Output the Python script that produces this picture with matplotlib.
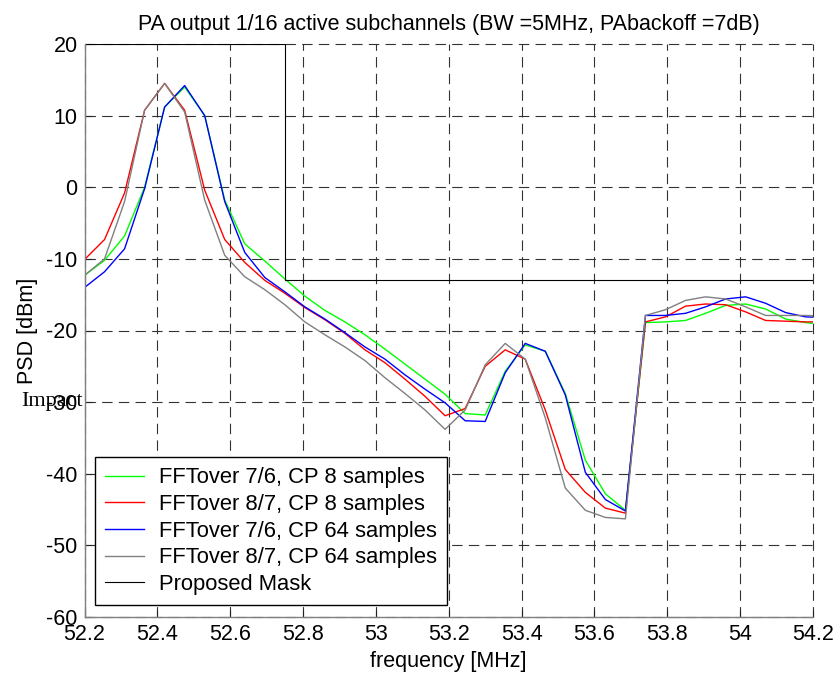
import matplotlib
matplotlib.use("Agg")
import matplotlib.pyplot as plt

plt.rcParams['font.family'] = ['Liberation Sans', 'DejaVu Sans']
plt.rcParams['lines.scale_dashes'] = False
plt.rcParams['axes.unicode_minus'] = False

freq = [52.2, 52.255, 52.31, 52.365, 52.42, 52.475, 52.53, 52.585, 52.64, 52.695,
        52.75, 52.805, 52.86, 52.915, 52.97, 53.025, 53.08, 53.135, 53.19, 53.245,
        53.3, 53.355, 53.41, 53.465, 53.52, 53.575, 53.63, 53.685, 53.74, 53.795,
        53.85, 53.905, 53.96, 54.015, 54.07, 54.125, 54.18, 54.235]

psd_76_cp8 = [-12.3, -10.2, -6.8, 0.0, 11.2, 14.0, 10.0, -1.8, -7.9, -10.3,
              -12.8, -15.2, -17.2, -18.8, -20.6, -22.6, -24.7, -26.8, -28.9, -31.6,
              -31.8, -25.7, -22.0, -22.9, -28.8, -38.1, -42.8, -45.1, -18.9, -18.8,
              -18.6, -17.6, -16.5, -16.3, -17.0, -18.4, -18.9, -19.2]

psd_87_cp8 = [-10.1, -7.3, -0.8, 10.75, 14.5, 10.75, -0.4, -7.3, -10.5, -13.0,
              -14.8, -16.8, -18.5, -20.4, -22.7, -24.5, -26.8, -29.2, -31.9, -30.9,
              -25.0, -22.7, -24.0, -31.1, -39.4, -42.6, -44.8, -45.5, -18.8, -18.1,
              -16.6, -16.3, -16.4, -17.4, -18.6, -18.7, -18.8, -18.8]

psd_76_cp64 = [-14.0, -11.8, -8.6, -0.2, 11.2, 14.2, 10.0, -2.0, -9.1, -12.6,
               -14.6, -16.7, -18.4, -20.3, -22.3, -24.0, -26.2, -28.2, -30.1, -32.6,
               -32.7, -25.9, -21.8, -22.9, -29.0, -39.8, -43.6, -45.2, -17.9, -17.9,
               -17.6, -16.7, -15.6, -15.3, -16.2, -17.5, -18.1, -18.2]

psd_87_cp64 = [-12.3, -10.0, -2.0, 10.75, 14.5, 10.5, -1.8, -9.5, -12.5, -14.3,
               -16.4, -18.8, -20.6, -22.3, -24.2, -26.6, -28.8, -31.1, -33.8, -31.1,
               -24.8, -21.8, -24.0, -32.2, -42.0, -45.1, -46.1, -46.3, -17.9, -17.1,
               -15.8, -15.3, -15.6, -16.7, -17.9, -17.9, -17.9, -18.0]

mask_freq = [52.2, 52.75, 52.75, 54.2]
mask_psd = [20, 20, -13, -13]

labels = ['FFTover 7/6, CP 8 samples', 'FFTover 8/7, CP 8 samples',
          'FFTover 7/6, CP 64 samples', 'FFTover 8/7, CP 64 samples', 'Proposed Mask']
colors = ['#00ff00', '#ff0000', '#0000ff', '#808080', '#000000']

xticks = [52.2, 52.4, 52.6, 52.8, 53.0, 53.2, 53.4, 53.6, 53.8, 54.0, 54.2]
xticklabels = ['52.2', '52.4', '52.6', '52.8', '53', '53.2', '53.4', '53.6', '53.8', '54', '54.2']
yticks = [-60, -50, -40, -30, -20, -10, 0, 10, 20]

fig = plt.figure(figsize=(8.4, 6.75), dpi=100)
ax = fig.add_axes([84.5 / 840, 1 - 617 / 675, (813 - 84.5) / 840, (617 - 44) / 675])

series = [psd_76_cp8, psd_87_cp8, psd_76_cp64, psd_87_cp64]
for s, c, lab in zip(series, colors[:4], labels[:4]):
    ax.plot(freq, s, color=c, lw=1.0, label=lab)
ax.plot(mask_freq, mask_psd, color=colors[4], lw=0.8, label=labels[4])

ax.set_xlim(52.2, 54.2)
ax.set_ylim(-60, 20)
ax.set_xticks(xticks)
ax.set_xticklabels(xticklabels)
ax.set_yticks(yticks)

ax.grid(True, color='#333333', linestyle=(0, (7.5, 4.5)), lw=0.8)
for gl in ax.get_xgridlines() + ax.get_ygridlines():
    gl.set_clip_on(False)

for side in ['top', 'right']:
    ax.spines[side].set_visible(False)
for side in ['left', 'bottom']:
    ax.spines[side].set_color('#808080')
    ax.spines[side].set_linewidth(1.0)

ax.tick_params(direction='in', length=5, width=0.8, color='#222222',
               labelsize=15.5, pad=5)

ax.set_title('PA output 1/16 active subchannels (BW =5MHz, PAbackoff =7dB)',
             fontsize=15.5, pad=10)
ax.set_xlabel('frequency [MHz]', fontsize=15.5, labelpad=4)
ax.set_ylabel('PSD [dBm]', fontsize=15.5, labelpad=6)

leg = ax.legend(loc='lower left', bbox_to_anchor=(0.0144, 0.021), borderaxespad=0,
                fontsize=15.8, frameon=True, fancybox=False, framealpha=1,
                edgecolor='black', borderpad=0.45, labelspacing=0.26,
                handlelength=1.8, handletextpad=0.65)
leg.get_frame().set_linewidth(1.0)

fig.text(21 / 840, 1 - 402 / 675, 'Impact', family=['Liberation Serif', 'DejaVu Serif'],
         fontsize=16, va='center', ha='left')

fig.savefig('out.png', dpi=100)
